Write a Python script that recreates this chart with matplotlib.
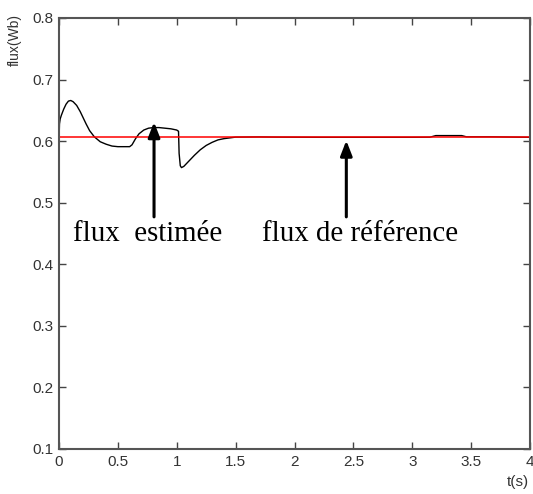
import matplotlib
matplotlib.use("Agg")
import matplotlib.pyplot as plt
from matplotlib import font_manager

# Data
t_est = [0.0, 0.004, 0.01, 0.02, 0.04, 0.06, 0.08, 0.1, 0.12, 0.15, 0.18, 0.2, 0.23, 0.26, 0.3,
         0.35, 0.4, 0.45, 0.5, 0.55, 0.6, 0.62, 0.65, 0.68, 0.72, 0.76, 0.8, 0.85, 0.9, 0.95,
         1.0, 1.015, 1.02, 1.03, 1.04, 1.06, 1.1, 1.15, 1.2, 1.25, 1.3, 1.35, 1.4, 1.5, 1.7,
         1.85, 2.2, 2.6, 3.0, 3.15, 3.2, 3.3, 3.42, 3.46, 3.66, 4.0]
flux_est = [0.600, 0.628, 0.636, 0.642, 0.652, 0.660, 0.665, 0.666, 0.664, 0.658, 0.648, 0.640, 0.628,
            0.617, 0.607, 0.599, 0.595, 0.592, 0.591, 0.591, 0.591, 0.594, 0.604, 0.612, 0.618, 0.621,
            0.622, 0.622, 0.621, 0.620, 0.618, 0.616, 0.580, 0.560, 0.557, 0.559, 0.567, 0.577, 0.586,
            0.593, 0.598, 0.602, 0.604, 0.6065, 0.6068, 0.6065, 0.6062, 0.6062, 0.6062, 0.6064, 0.609,
            0.609, 0.609, 0.607, 0.607, 0.6062]
t_ref = [0.0, 4.0]
flux_ref = [0.6062, 0.6062]

xticks = [0, 0.5, 1, 1.5, 2, 2.5, 3, 3.5, 4]
xticklabels = ["0", "0.5", "1", "1.5", "2", "2.5", "3", "3.5", "4"]
yticks = [0.1, 0.2, 0.3, 0.4, 0.5, 0.6, 0.7, 0.8]
yticklabels = ["0.1", "0.2", "0.3", "0.4", "0.5", "0.6", "0.7", "0.8"]

ann_text = ["flux  estimée", "flux de référence"]
ann_tip = [(0.807, 0.631), (2.44, 0.601)]
ann_tail_y = [0.477, 0.477]
ann_text_pos = [(0.116, 0.437), (1.721, 0.437)]

names = {f.name for f in font_manager.fontManager.ttflist}
tick_font = "Liberation Sans Narrow" if "Liberation Sans Narrow" in names else "Liberation Sans"

fig = plt.figure(figsize=(5.33, 4.94), dpi=100)
ax = fig.add_axes([0.1107, 0.0911, 0.8837, 0.8725])

ax.plot(t_est, flux_est, color="black", lw=1.0)
ax.plot(t_ref, flux_ref, color="#ff0000", lw=1.1)

ax.set_xlim(0, 4)
ax.set_ylim(0.1, 0.8)
ax.set_xticks(xticks)
ax.set_xticklabels(xticklabels)
ax.set_yticks(yticks)
ax.set_yticklabels(yticklabels)

for lab in ax.get_xticklabels() + ax.get_yticklabels():
    lab.set_fontfamily(tick_font)
    lab.set_fontsize(11)
    lab.set_color("#333333")

ax.tick_params(direction="in", length=5, width=1.0, color="#444444", top=True, right=True,
               pad=4)
for s in ax.spines.values():
    s.set_color("#555555")
    s.set_linewidth(1.5)

ax.set_ylabel("flux(Wb)", fontfamily=tick_font, fontsize=10, color="#333333")
ax.yaxis.set_label_coords(-0.079, 0.949)
ax.set_xlabel("t(s)", fontfamily=tick_font, fontsize=11, color="#333333")
ax.xaxis.set_label_coords(0.975, -0.06)

for txt, tip, ty, tp in zip(ann_text, ann_tip, ann_tail_y, ann_text_pos):
    ax.annotate("", xy=tip, xytext=(tip[0], ty),
                arrowprops=dict(arrowstyle="-|>,head_length=0.9,head_width=0.35",
                                color="black", lw=2.2, shrinkA=0, shrinkB=0))
    ax.text(tp[0], tp[1], txt, fontfamily="Liberation Serif", fontsize=20.8,
            color="black", ha="left", va="baseline")

fig.savefig("out.png", dpi=100)
